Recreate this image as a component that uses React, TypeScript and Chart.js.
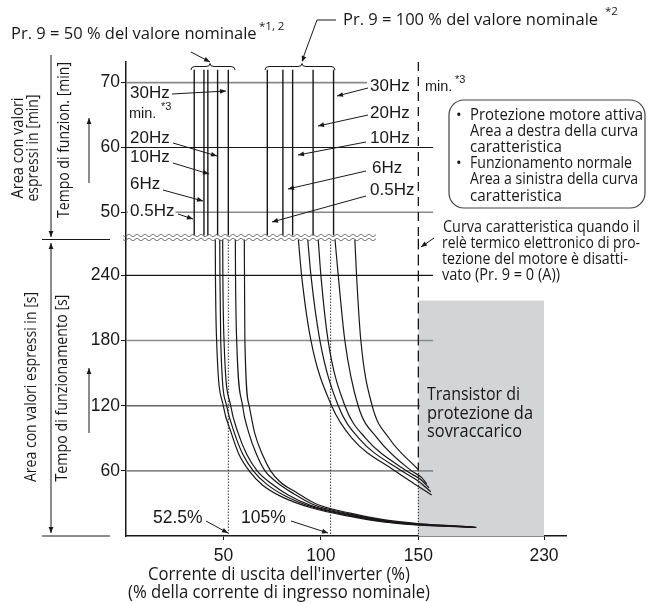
import React, { useEffect, useRef } from 'react';
import { Chart, registerables, LinearScale } from 'chart.js';

// ---------------- data ----------------
const xTicks = [50, 100, 150, 230];
const minTicks = [50, 60, 70];
const secTicks = [60, 120, 180, 240];
const freqLabels = ['0.5Hz', '6Hz', '10Hz', '20Hz', '30Hz'];

// upper section (minutes): vertical characteristic lines, order 0.5, 6, 10, 20, 30 Hz
const upper50 = [35, 40, 42, 47, 52.5];
const upper100 = [72.5, 80.5, 85.5, 96, 106.5];

// lower section (seconds): [current %, time s]
const low50_05 = [[45.8, 274], [45.9, 240], [46.5, 180], [49.9, 120], [54, 95], [58, 75], [63.2, 60], [70, 47], [80, 36], [95, 26], [115, 18], [132, 13], [151, 10], [170, 8.8], [187, 8]];
const low50_6 = [[48.1, 274], [48.2, 240], [48.6, 180], [51.6, 120], [55.6, 95], [60, 75], [65.3, 60], [72, 48], [81.5, 37], [95, 27], [115, 18.8], [132, 13.5], [151, 10.3], [170, 9], [186, 8.1]];
const low50_10 = [[49.6, 274], [49.7, 240], [50.3, 180], [53.7, 120], [57.5, 95], [62, 75], [67.3, 60], [74, 49], [83, 38], [95, 28], [115, 19.5], [132, 14], [151, 10.6], [170, 9.2], [185, 8.2]];
const low50_20 = [[56.1, 274], [56.2, 240], [56.8, 180], [59.8, 120], [63, 95], [67, 75], [71.3, 60], [77, 50], [86, 39], [96, 29], [115, 20.2], [132, 14.5], [151, 11], [170, 9.4], [184, 8.3]];
const low50_30 = [[60.7, 274], [60.8, 240], [61, 180], [63.2, 120], [66, 95], [70, 75], [74.2, 60], [79, 50], [87.5, 40], [97, 30], [115, 21], [132, 15], [151, 11.3], [170, 9.6], [183, 8.4]];

const low100_05 = [[88.4, 274], [90.1, 240], [94.9, 180], [105.5, 120], [116, 90], [137.9, 60], [148, 48], [158.5, 37.7]];
const low100_6 = [[93.2, 274], [94.9, 240], [99.5, 180], [108.9, 120], [119.5, 90], [141.4, 60], [150.5, 50], [157.9, 40.8]];
const low100_10 = [[98.6, 274], [100, 240], [103.7, 180], [112.3, 120], [123, 90], [143.9, 60], [151.5, 52], [156.8, 44.4]];
const low100_20 = [[107.2, 274], [108.9, 240], [112.3, 180], [119.1, 120], [129, 90], [146.5, 60], [152, 54], [155.3, 48]];
const low100_30 = [[117.4, 274], [118.3, 240], [120.5, 180], [126.3, 120], [135, 90], [150, 61]];

const lowCurves = [low50_05, low50_6, low50_10, low50_20, low50_30, low100_05, low100_6, low100_10, low100_20, low100_30];

// reference marks
const dottedMarks = [52.5, 105];
const relayOff = 150; // Pr. 9 = 0 curve
const relayOffDashedFrom = 61;
const overloadBox = { from: 150, to: 230, top: 217 };

// horizontal guide lines: end (%) for each tick value
const minGridEnd = [159.4, 159.4, 123.7];
const secGridEnd = [159.4, 151.1, 159.4, 159.4];

// axis ranges
const X_MIN = 0, X_MAX = 244;
const MIN_LO = 45.95, MIN_HI = 73.19;
const SEC_LO = 0, SEC_HI = 274;
const V_TOP = 72;

// ---------------- scale with compressed range beyond 150 % ----------------
const X_BREAK = 150;
const X_SQUEEZE = 0.806;
const squeezeX = (v: number) => (v <= X_BREAK ? v : X_BREAK + (v - X_BREAK) * X_SQUEEZE);
const unsqueezeX = (p: number) => (p <= X_BREAK ? p : X_BREAK + (p - X_BREAK) / X_SQUEEZE);

class BrokenLinearScale extends LinearScale {
  static id = 'brokenLinear';
  getPixelForValue(value: number) {
    const a = squeezeX(this.min), b = squeezeX(this.max);
    return this.getPixelForDecimal((squeezeX(value) - a) / (b - a));
  }
  getValueForPixel(pixel: number) {
    const a = squeezeX(this.min), b = squeezeX(this.max);
    return unsqueezeX(a + this.getDecimalForPixel(pixel) * (b - a));
  }
}

Chart.register(...registerables, BrokenLinearScale);

const INK = '#1a1718';
const SANS = '"Open Sans", "Noto Sans", sans-serif';
const ARIAL = '"Liberation Sans", Arial, sans-serif';

function txt(ctx: CanvasRenderingContext2D, s: string, x: number, y: number, size: number, family: string, align: CanvasTextAlign = 'left', maxW?: number) {
  ctx.font = `${size}px ${family}`;
  ctx.textAlign = align;
  ctx.textBaseline = 'middle';
  ctx.fillStyle = INK;
  if (maxW) {
    const w = ctx.measureText(s).width;
    if (w > maxW) { ctx.fillText(s, x, y, maxW); return maxW; }
    ctx.fillText(s, x, y);
    return w;
  }
  ctx.fillText(s, x, y);
  return ctx.measureText(s).width;
}

function rtxt(ctx: CanvasRenderingContext2D, s: string, cx: number, cy: number, size: number, family: string, maxW?: number) {
  ctx.save();
  ctx.translate(cx, cy);
  ctx.rotate(-Math.PI / 2);
  txt(ctx, s, 0, 0, size, family, 'center', maxW);
  ctx.restore();
}

function head(ctx: CanvasRenderingContext2D, x1: number, y1: number, x2: number, y2: number, len = 6, w = 2.4) {
  const a = Math.atan2(y2 - y1, x2 - x1);
  ctx.beginPath();
  ctx.moveTo(x2, y2);
  ctx.lineTo(x2 - len * Math.cos(a) + w * Math.sin(a), y2 - len * Math.sin(a) - w * Math.cos(a));
  ctx.lineTo(x2 - len * Math.cos(a) - w * Math.sin(a), y2 - len * Math.sin(a) + w * Math.cos(a));
  ctx.closePath();
  ctx.fill();
}

function arrow(ctx: CanvasRenderingContext2D, x1: number, y1: number, x2: number, y2: number, both = false) {
  ctx.beginPath();
  ctx.moveTo(x1, y1);
  ctx.lineTo(x2, y2);
  ctx.stroke();
  head(ctx, x1, y1, x2, y2);
  if (both) head(ctx, x2, y2, x1, y1);
}

function seg(ctx: CanvasRenderingContext2D, pts: number[][]) {
  ctx.beginPath();
  pts.forEach((p, i) => (i ? ctx.lineTo(p[0], p[1]) : ctx.moveTo(p[0], p[1])));
  ctx.stroke();
}

function wavy(ctx: CanvasRenderingContext2D, x1: number, x2: number, y: number, amp: number, period: number) {
  ctx.beginPath();
  for (let x = x1; x <= x2; x += 0.5) {
    const yy = y + amp * Math.sin(((x - x1) / period) * 2 * Math.PI);
    if (x === x1) ctx.moveTo(x, yy); else ctx.lineTo(x, yy);
  }
  ctx.stroke();
}

function brace(ctx: CanvasRenderingContext2D, x1: number, x2: number, tip: number, yBase: number) {
  const yMid = yBase - 3.5, yTip = yBase - 6.5;
  ctx.beginPath();
  ctx.moveTo(x1, yBase);
  ctx.quadraticCurveTo(x1, yMid, x1 + 4, yMid);
  ctx.lineTo(tip - 4, yMid);
  ctx.quadraticCurveTo(tip, yMid, tip, yTip);
  ctx.quadraticCurveTo(tip, yMid, tip + 4, yMid);
  ctx.lineTo(x2 - 4, yMid);
  ctx.quadraticCurveTo(x2, yMid, x2, yBase);
  ctx.stroke();
}

const decorPlugin = {
  id: 'decor',
  afterDatasetsDraw(chart: any) {
    const ctx: CanvasRenderingContext2D = chart.ctx;
    const yb = chart.scales.yTop.bottom;
    const x0 = chart.chartArea.left;
    ctx.save();
    ctx.fillStyle = '#fff';
    ctx.fillRect(x0 + 1, yb - 3, 376 - x0, 4);
    ctx.strokeStyle = '#555';
    ctx.lineWidth = 1;
    wavy(ctx, x0 - 3, 376, yb - 3, 1.1, 8);
    wavy(ctx, x0 - 3, 376, yb + 1, 1.1, 8);
    ctx.restore();
  },
  afterDraw(chart: any) {
    const ctx: CanvasRenderingContext2D = chart.ctx;
    ctx.save();
    ctx.strokeStyle = INK;
    ctx.fillStyle = INK;
    ctx.lineWidth = 1;

    // titles of the two parameter groups
    txt(ctx, 'Pr. 9 = 50 % del valore nominale', 11, 34, 16.5, SANS, 'left', 246);
    txt(ctx, '*1, 2', 259, 27, 11.5, SANS);
    txt(ctx, 'Pr. 9 = 100 % del valore nominale', 343, 20, 16.5, SANS, 'left', 257);
    txt(ctx, '*2', 605, 12, 11.5, SANS);
    arrow(ctx, 191, 52, 210, 62);
    seg(ctx, [[336, 20], [317, 20], [303, 58]]);
    head(ctx, 317, 20, 302, 62);
    brace(ctx, 191, 235, 210, 70);
    brace(ctx, 265, 335, 302, 70);

    // left frequency labels
    const leftY = [211, 184, 157, 138, 93];
    const leftArrows = [[178, 214, 193, 219], [163, 190, 203, 201], [173, 163, 209, 174], [173, 143, 217, 156], [172, 94, 226, 91]];
    freqLabels.forEach((s, i) => {
      ctx.font = `17px ${ARIAL}`;
      const w = ctx.measureText(s).width;
      ctx.fillStyle = '#fff';
      ctx.fillRect(128, leftY[i] - 8, w + 3, 16);
      txt(ctx, s, 130, leftY[i], 17, ARIAL);
      ctx.fillStyle = INK;
      const a = leftArrows[i];
      arrow(ctx, a[0], a[1], a[2], a[3]);
    });
    txt(ctx, 'min.', 129, 114, 14.5, ARIAL);
    txt(ctx, '*3', 161, 107, 11, ARIAL);

    // right frequency labels
    const rightY = [190, 168, 138, 113, 86];
    const rightArrows = [[366, 196, 272, 222], [366, 171, 288, 189], [366, 142, 298, 155], [368, 115, 318, 126], [368, 88, 337, 96]];
    freqLabels.forEach((s, i) => {
      txt(ctx, s, i === 1 ? 372 : 370, rightY[i], 17, ARIAL);
      const a = rightArrows[i];
      arrow(ctx, a[0], a[1], a[2], a[3]);
    });
    txt(ctx, 'min.', 425, 87, 14.5, ARIAL);
    txt(ctx, '*3', 455, 80, 11, ARIAL);

    // rounded legend box
    ctx.lineWidth = 1.2;
    ctx.strokeStyle = '#444';
    ctx.beginPath();
    ctx.roundRect(449, 100, 196, 108, 15);
    ctx.stroke();
    ctx.strokeStyle = INK;
    ctx.lineWidth = 1;
    txt(ctx, '•', 456, 116, 15, SANS);
    txt(ctx, 'Protezione motore attiva', 470, 116, 15.5, SANS, 'left', 173);
    txt(ctx, 'Area a destra della curva', 470, 132, 15.5, SANS, 'left', 168);
    txt(ctx, 'caratteristica', 470, 148, 15.5, SANS, 'left', 92);
    txt(ctx, '•', 456, 164, 15, SANS);
    txt(ctx, 'Funzionamento normale', 470, 164, 15.5, SANS, 'left', 162);
    txt(ctx, 'Area a sinistra della curva', 470, 180, 15.5, SANS, 'left', 168);
    txt(ctx, 'caratteristica', 470, 197, 15.5, SANS, 'left', 92);

    // relay-off note
    txt(ctx, 'Curva caratteristica quando il', 443, 228, 15.5, SANS, 'left', 197);
    txt(ctx, 'relè termico elettronico di pro-', 442, 244, 15.5, SANS, 'left', 198);
    txt(ctx, 'tezione del motore è disatti-', 442, 260, 15.5, SANS, 'left', 186);
    txt(ctx, 'vato (Pr. 9 = 0 (A))', 442, 276, 15.5, SANS, 'left', 118);
    arrow(ctx, 434, 238, 421, 247);

    // overload region label
    txt(ctx, 'Transistor di', 427, 395, 18, SANS, 'left', 93);
    txt(ctx, 'protezione da', 427, 414, 18, SANS, 'left', 106);
    txt(ctx, 'sovraccarico', 427, 432, 18, SANS, 'left', 95);

    // percentage marks
    txt(ctx, '52.5%', 153, 518, 17.5, ARIAL);
    arrow(ctx, 206, 521, 228, 533);
    txt(ctx, '105%', 241, 518, 17.5, ARIAL);
    arrow(ctx, 291, 521, 328, 533);

    // x axis title
    txt(ctx, "Corrente di uscita dell'inverter (%)", 279, 575, 17.5, SANS, 'center', 262);
    txt(ctx, '(% della corrente di ingresso nominale)', 279, 593, 17.5, SANS, 'center', 302);

    // left side region labels and arrows
    rtxt(ctx, 'Area con valori', 18, 148, 16.5, SANS, 101);
    rtxt(ctx, 'espressi in [min]', 33, 148, 16.5, SANS, 107);
    rtxt(ctx, 'Tempo di funzion. [min]', 64, 140, 16.5, SANS, 156);
    rtxt(ctx, 'Area con valori espressi in [s]', 31, 387, 16, SANS, 190);
    rtxt(ctx, 'Tempo di funzionamento [s]', 62, 388, 16.5, SANS, 187);
    arrow(ctx, 51, 55, 51, 237);
    arrow(ctx, 51, 243, 51, 533, true);
    seg(ctx, [[42, 239.5], [110, 239.5]]);
    seg(ctx, [[42, 536], [110, 536]]);
    arrow(ctx, 89, 183, 89, 118);
    arrow(ctx, 89, 433, 89, 368);

    ctx.restore();
  },
};

function mk(data: { x: number; y: number }[], yAxisID: string, extra: any = {}) {
  return {
    type: 'line',
    data,
    xAxisID: 'x',
    yAxisID,
    borderColor: INK,
    borderWidth: 1.3,
    pointRadius: 0,
    fill: false,
    tension: 0,
    order: 0,
    ...extra,
  };
}

function buildDatasets() {
  const ds: any[] = [];
  lowCurves.forEach((c) => ds.push(mk(c.map(([x, y]) => ({ x, y })), 'yBot', { cubicInterpolationMode: 'monotone', borderWidth: 1.2 })));
  [...upper50, ...upper100].forEach((x) => ds.push(mk([{ x, y: V_TOP }, { x, y: MIN_LO }], 'yTop', { borderWidth: 1.4 })));
  ds.push(mk([{ x: relayOff, y: MIN_HI }, { x: relayOff, y: MIN_LO }], 'yTop', { borderDash: [9, 6], borderWidth: 1.3 }));
  ds.push(mk([{ x: relayOff, y: SEC_HI }, { x: relayOff, y: relayOffDashedFrom }], 'yBot', { borderDash: [11, 5], borderWidth: 1.3 }));
  ds.push(mk([{ x: relayOff, y: relayOffDashedFrom }, { x: relayOff, y: SEC_LO }], 'yBot', { borderDash: [1.5, 1.5], borderWidth: 1 }));
  dottedMarks.forEach((x) => ds.push(mk([{ x, y: SEC_HI }, { x, y: SEC_LO }], 'yBot', { borderDash: [1.5, 1.5], borderWidth: 1, borderColor: '#333' })));
  const minColors = ['#8a8a8a', INK, '#8a8a8a'];
  minTicks.forEach((v, i) => ds.push(mk([{ x: X_MIN, y: v }, { x: minGridEnd[i], y: v }], 'yTop', { borderColor: minColors[i], borderWidth: i === 1 ? 1.1 : 1.6, order: 5 })));
  const secColors = ['#8a8a8a', '#666', '#8a8a8a', INK];
  secTicks.forEach((v, i) => ds.push(mk([{ x: X_MIN, y: v }, { x: secGridEnd[i], y: v }], 'yBot', { borderColor: secColors[i], borderWidth: i === 3 ? 1.1 : 1.6, order: 5 })));
  ds.push(mk([{ x: overloadBox.from, y: overloadBox.top }, { x: overloadBox.to, y: overloadBox.top }], 'yBot', { fill: 'origin', backgroundColor: '#d3d4d6', borderWidth: 0, borderColor: 'rgba(0,0,0,0)', order: 10 }));
  return ds;
}

const tickFont = { family: '"Liberation Sans", Arial, sans-serif', size: 17.5 };

export default function App() {
  const ref = useRef<HTMLCanvasElement>(null);
  useEffect(() => {
    document.body.style.margin = '0';
    const chart = new Chart(ref.current as HTMLCanvasElement, {
      type: 'line',
      data: { datasets: buildDatasets() },
      options: {
        animation: false,
        responsive: false,
        devicePixelRatio: 1,
        layout: { padding: { left: 81, right: 82, top: 62, bottom: 36 } },
        plugins: { legend: { display: false }, tooltip: { enabled: false } },
        elements: { point: { radius: 0 } },
        scales: {
          x: {
            type: 'brokenLinear',
            min: X_MIN,
            max: X_MAX,
            afterBuildTicks: (s: any) => { s.ticks = xTicks.map((v) => ({ value: v })); },
            afterFit: (s: any) => { s.height = 30; },
            grid: { drawOnChartArea: false, drawTicks: true, tickLength: 4, color: INK },
            border: { display: true, color: INK, width: 1.5 },
            ticks: { color: INK, font: tickFont, padding: 6, maxRotation: 0, autoSkip: false },
          },
          yBot: {
            type: 'linear',
            position: 'left',
            stack: 'y',
            stackWeight: 297.5,
            min: SEC_LO,
            max: SEC_HI,
            afterBuildTicks: (s: any) => { s.ticks = secTicks.map((v) => ({ value: v })); },
            afterFit: (s: any) => { s.width = 45; },
            grid: { drawOnChartArea: false, drawTicks: true, tickLength: 5, color: INK },
            border: { display: true, color: INK, width: 1.5 },
            ticks: { color: INK, font: tickFont, padding: 1 },
          },
          yTop: {
            type: 'linear',
            position: 'left',
            stack: 'y',
            stackWeight: 176.5,
            min: MIN_LO,
            max: MIN_HI,
            afterBuildTicks: (s: any) => { s.ticks = minTicks.map((v) => ({ value: v })); },
            afterFit: (s: any) => { s.width = 45; },
            grid: { drawOnChartArea: false, drawTicks: true, tickLength: 5, color: INK },
            border: { display: true, color: INK, width: 1.5 },
            ticks: { color: INK, font: tickFont, padding: 1 },
          },
        },
      } as any,
      plugins: [decorPlugin],
    } as any);
    return () => chart.destroy();
  }, []);
  return <canvas ref={ref} width={648} height={602} style={{ display: 'block' }} />;
}
